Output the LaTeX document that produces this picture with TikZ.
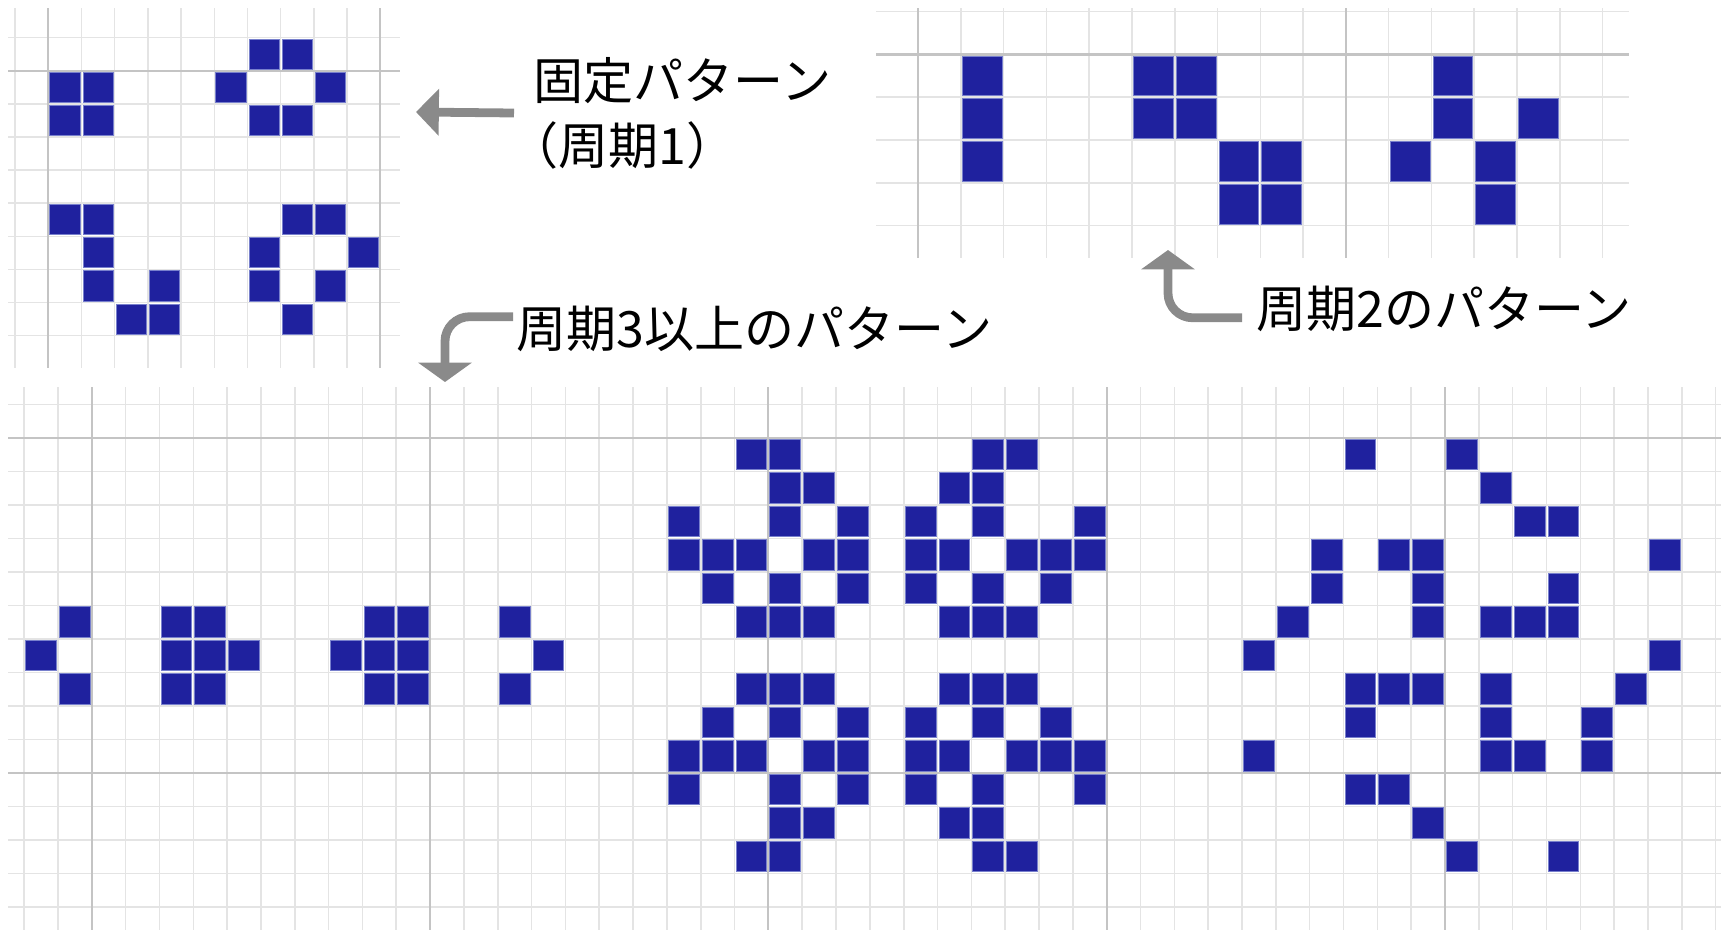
\documentclass[tikz,border=0pt]{standalone}
\usepackage{fontspec}
\setmainfont{Noto Sans CJK JP}
\usetikzlibrary{arrows.meta}

\definecolor{cellblue}{RGB}{31,33,158}
\definecolor{celledge}{RGB}{120,128,205}
\definecolor{gridlight}{RGB}{228,228,228}
\definecolor{griddark}{RGB}{196,196,196}
\definecolor{arrowgray}{RGB}{138,138,138}

% cells of a grid: x0, y0, cell width, cell height, list of col/row
\newcommand{\lifecells}[5]{%
  \foreach \ci/\cj in {#5}
    \draw[cell] ({#1+\ci*#3+1.5},{#2+\cj*#4+1.5}) rectangle ({#1+(\ci+1)*#3-1.5},{#2+(\cj+1)*#4-1.5});
}

\tikzset{
  cell/.style={fill=cellblue, draw=celledge, line width=0.5pt},
  thingrid/.style={draw=gridlight, line width=0.9pt},
  thickgrid/.style={draw=griddark, line width=1.2pt},
  grayarrow/.style={draw=arrowgray, line width=5pt, -{Triangle[width=26pt,length=13pt]}},
  bentarrow/.style={draw=arrowgray, line width=5pt, rounded corners=14pt, -{Triangle[width=30pt,length=11pt]}},
  patlabel/.style={anchor=west, inner sep=0pt, font=\fontsize{28.5}{37}\selectfont}
}

\begin{document}
\begin{tikzpicture}[x=0.02cm, y=-0.02cm]

\useasboundingbox (0,0) rectangle (1721,930);

% Fixed patterns grid
\foreach \i in {-1,...,10}
    \draw[thingrid] ({48.3+\i*33.2},8) -- ({48.3+\i*33.2},368);
\foreach \j in {0,...,9}
    \draw[thingrid] (8,{37.7+\j*33.1}) -- (400,{37.7+\j*33.1});
\foreach \i in {0,10}
    \draw[thickgrid] ({48.3+\i*33.2},8) -- ({48.3+\i*33.2},368);
\draw[thickgrid] (8,70.8) -- (400,70.8);

\lifecells{48.3}{37.7}{33.2}{33.1}{0/1,1/1,0/2,1/2,
  6/0,7/0,5/1,8/1,6/2,7/2,
  0/5,1/5,1/6,1/7,3/7,2/8,3/8,
  7/5,8/5,6/6,9/6,6/7,8/7,7/8}

% Period 2 grid
\foreach \i in {0,...,16}
    \draw[thingrid] ({918.1+\i*42.78},8) -- ({918.1+\i*42.78},258);
\foreach \j in {0,...,5}
    \draw[thingrid] (876,{11.7+\j*42.77}) -- (1629,{11.7+\j*42.77});
\foreach \i in {0,10}
    \draw[thickgrid] ({918.1+\i*42.78},8) -- ({918.1+\i*42.78},258);
\draw[thickgrid] (876,54.5) -- (1629,54.5);

\lifecells{918.1}{11.7}{42.78}{42.77}{1/1,1/2,1/3,
  5/1,6/1,5/2,6/2,7/3,8/3,7/4,8/4,
  12/1,12/2,14/2,11/3,13/3,13/4}

% Period 3+ grid
\foreach \n in {-2,...,48}
    \draw[thingrid] ({91.8+\n*33.83},387) -- ({91.8+\n*33.83},930);
\foreach \m in {-1,...,14}
    \draw[thingrid] (8,{437.9+\m*33.5}) -- (1721,{437.9+\m*33.5});
\foreach \n in {0,10,20,30,40}
    \draw[thickgrid] ({91.8+\n*33.83},387) -- ({91.8+\n*33.83},930);
\foreach \m in {0,10}
    \draw[thickgrid] (8,{437.9+\m*33.5}) -- (1721,{437.9+\m*33.5});

\lifecells{91.8}{437.9}{33.83}{33.5}{-1/5,-2/6,-1/7,
  2/5,3/5,2/6,3/6,4/6,2/7,3/7,
  8/5,9/5,7/6,8/6,9/6,8/7,9/7,
  12/5,13/6,12/7}

\lifecells{91.8}{437.9}{33.83}{33.5}{19/0,20/0,26/0,27/0,
  20/1,21/1,25/1,26/1,
  17/2,20/2,22/2,24/2,26/2,29/2,
  17/3,18/3,19/3,21/3,22/3,24/3,25/3,27/3,28/3,29/3,
  18/4,20/4,22/4,24/4,26/4,28/4,
  19/5,20/5,21/5,25/5,26/5,27/5,
  19/7,20/7,21/7,25/7,26/7,27/7,
  18/8,20/8,22/8,24/8,26/8,28/8,
  17/9,18/9,19/9,21/9,22/9,24/9,25/9,27/9,28/9,29/9,
  17/10,20/10,22/10,24/10,26/10,29/10,
  20/11,21/11,25/11,26/11,
  19/12,20/12,26/12,27/12}

\lifecells{91.8}{437.9}{33.83}{33.5}{37/0,40/0,41/1,42/2,43/2,
  36/3,38/3,39/3,46/3,36/4,39/4,43/4,
  35/5,39/5,41/5,42/5,43/5,34/6,46/6,
  37/7,38/7,39/7,41/7,45/7,37/8,41/8,44/8,
  34/9,41/9,42/9,44/9,37/10,38/10,39/11,40/12,43/12}

% Labels
\node[patlabel, align=left, outer sep=11pt] (fixedlbl) at (514,113)
    {固定パターン\\\hspace*{-0.5em}（周期1）};
\node[patlabel, outer sep=2pt] (p3lbl) at (513,329) {周期3以上のパターン};
\node[patlabel, outer sep=8pt] (p2lbl) at (1242,309) {周期2のパターン};

% Arrows
\coordinate (fixtip) at (416,112);
\coordinate (p3tip) at (445,382);
\coordinate (p2tip) at (1168,250);
\draw[grayarrow] (fixedlbl.west) -- (fixtip);
\draw[bentarrow] ([yshift=7pt]p3lbl.west) -| (p3tip);
\draw[bentarrow] ([yshift=-5pt]p2lbl.west) -| (p2tip);

\end{tikzpicture}
\end{document}
